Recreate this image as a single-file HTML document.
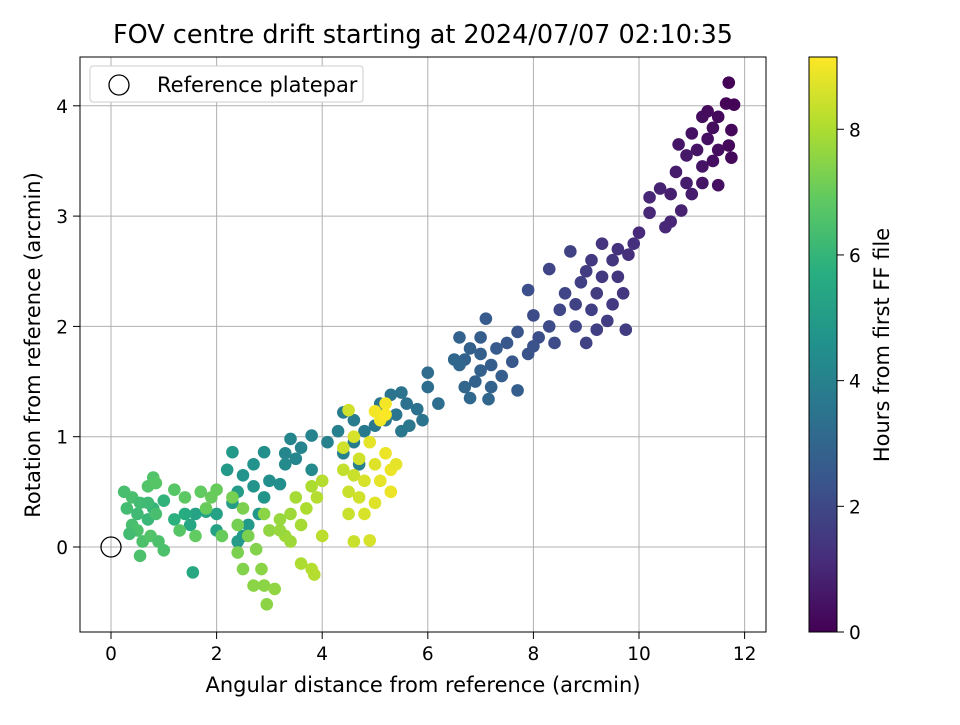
<!DOCTYPE html>
<html><head><meta charset="utf-8"><style>
body{margin:0;background:#fff;font-family:"Liberation Sans","DejaVu Sans",sans-serif}
svg text{font-family:"DejaVu Sans","Liberation Sans",sans-serif}
</style></head><body>
<svg id="chart" width="960" height="720" xmlns="http://www.w3.org/2000/svg">
<defs><linearGradient id="vir" x1="0" y1="1" x2="0" y2="0">
<stop offset="0" stop-color="#440154"/><stop offset="0.125" stop-color="#472d7b"/><stop offset="0.25" stop-color="#3b528b"/><stop offset="0.375" stop-color="#2c728e"/><stop offset="0.5" stop-color="#21918c"/><stop offset="0.625" stop-color="#28ae80"/><stop offset="0.75" stop-color="#5ec962"/><stop offset="0.875" stop-color="#addc30"/><stop offset="1" stop-color="#fde725"/></linearGradient>
<clipPath id="clip"><rect x="80" y="57" width="686" height="575"/></clipPath></defs>
<text x="423" y="43" font-size="25.5" text-anchor="middle">FOV centre drift starting at 2024/07/07 02:10:35</text>
<g id="grid"></g>
<g id="pts" clip-path="url(#clip)"></g>
<circle id="refm" r="10" fill="none" stroke="#000" stroke-width="1.3"/>
<rect x="80" y="57" width="686" height="575" fill="none" stroke="#000" stroke-width="1"/>
<g id="ticks"></g>
<text x="423" y="692" font-size="21" text-anchor="middle">Angular distance from reference (arcmin)</text>
<text transform="translate(40,345) rotate(-90)" font-size="21" text-anchor="middle">Rotation from reference (arcmin)</text>
<g>
<rect x="90" y="66" width="273" height="36" rx="3" fill="#fff" stroke="#ccc"/>
<circle cx="119" cy="85" r="10" fill="none" stroke="#000" stroke-width="1.3"/>
<text x="157" y="92" font-size="21">Reference platepar</text></g>
<rect x="809" y="57" width="28" height="575" fill="url(#vir)" stroke="#000" stroke-width="1"/>
<g id="cbt"></g>
<text transform="translate(889,345) rotate(-90)" font-size="21" text-anchor="middle">Hours from first FF file</text>
</svg>
<script>
const xTicks=[0,2,4,6,8,10,12];
const yTicks=[0,1,2,3,4];
const cbTicks=[0,2,4,6,8];
const hMax=9.15;
const xs=[11.7,11.65,11.8,11.5,11.2,11.4,11.75,11.7,11.75,11.3,11.1,11.0,10.9,11.4,11.5,11.2,10.7,10.9,10.6,11.0,10.4,10.8,10.2,10.6,10.5,11.2,11.5,11.3,10.75,10.2,
10.0,9.9,9.6,9.8,9.3,9.5,9.1,9.0,9.3,8.9,9.6,9.7,9.5,9.2,8.8,8.6,8.5,8.8,9.1,9.4,9.75,8.3,8.0,8.1,8.3,8.7,9.0,9.2,7.9,8.4,
7.7,7.5,7.3,7.0,7.1,6.8,6.6,6.7,7.2,7.4,7.6,7.0,6.9,7.2,7.15,6.7,6.8,6.6,7.0,8.0,7.9,7.7,6.5,
6.0,6.0,6.2,5.8,5.6,5.5,5.3,5.1,5.4,5.5,5.65,5.9,5.2,5.0,4.8,4.6,4.4,4.6,4.4,4.7,4.3,
4.1,3.8,3.6,3.4,3.3,3.5,3.8,3.3,3.0,2.9,2.7,2.5,2.7,2.9,3.2,2.3,2.2,2.4,2.3,2.0,1.8,1.6,1.5,1.55,2.4,2.6,2.5,2.8,2.0,
1.4,1.2,1.0,0.8,0.7,0.5,0.3,0.25,0.4,0.55,0.4,0.5,0.6,0.55,0.75,0.9,1.0,0.85,0.7,0.8,0.85,1.2,1.4,1.7,1.9,2.0,1.8,1.6,1.3,2.1,0.35,0.7,
2.3,2.5,2.4,2.5,2.4,2.7,2.85,2.95,2.9,3.1,2.75,2.9,3.0,3.2,3.3,3.4,3.5,3.6,3.7,3.8,3.9,3.8,3.85,3.6,4.0,4.0,3.2,3.4,2.6,
4.4,4.5,4.6,4.5,4.6,4.7,4.5,4.8,4.8,4.9,5.0,5.0,5.1,4.9,5.0,5.2,5.1,5.2,5.3,5.3,5.4,4.4,4.7,5.2,4.6];
const ys=[4.21,4.02,4.01,3.9,3.9,3.8,3.78,3.64,3.53,3.7,3.6,3.75,3.55,3.5,3.28,3.45,3.4,3.3,3.2,3.2,3.25,3.05,3.17,2.95,2.9,3.3,3.6,3.95,3.65,3.03,
2.85,2.75,2.7,2.65,2.75,2.6,2.6,2.5,2.45,2.4,2.45,2.3,2.2,2.3,2.2,2.3,2.15,2.0,2.15,2.05,1.97,2.52,2.1,1.9,2.0,2.68,1.85,1.97,2.33,1.85,
1.95,1.85,1.8,1.9,2.07,1.8,1.9,1.7,1.65,1.55,1.68,1.6,1.5,1.45,1.34,1.45,1.35,1.65,1.75,1.82,1.75,1.42,1.7,
1.58,1.45,1.3,1.25,1.3,1.4,1.38,1.3,1.2,1.05,1.1,1.15,1.15,1.1,1.05,1.15,1.22,0.95,0.85,0.75,1.05,
0.95,1.01,0.9,0.98,0.85,0.8,0.7,0.75,0.6,0.86,0.75,0.65,0.55,0.45,0.57,0.86,0.7,0.5,0.4,0.3,0.32,0.3,0.2,-0.23,0.05,0.2,0.1,0.3,0.15,
0.3,0.25,0.42,0.35,0.25,0.3,0.35,0.5,0.45,0.4,0.2,0.15,0.05,-0.08,0.1,0.05,-0.03,0.3,0.55,0.63,0.58,0.52,0.45,0.5,0.45,0.52,0.35,0.1,0.15,0.1,0.12,0.4,
0.45,0.35,-0.05,-0.2,0.2,-0.35,-0.2,-0.52,-0.35,-0.38,-0.02,0.3,0.15,0.25,0.1,0.3,0.45,0.2,0.35,0.55,0.45,-0.2,-0.25,-0.15,0.1,0.6,0.15,0.05,0.1,
0.7,0.5,0.65,0.3,0.05,0.8,1.24,0.6,0.3,0.06,0.4,0.75,0.6,0.95,1.23,1.3,1.15,0.85,0.7,0.5,0.75,0.9,0.45,1.2,1.0];
const hours=[0.05,0.1,0.1,0.2,0.3,0.3,0.15,0.2,0.2,0.4,0.5,0.45,0.6,0.35,0.4,0.5,0.7,0.7,0.8,0.7,0.9,0.85,1.0,1.0,1.05,0.5,0.3,0.25,0.55,1.0,
1.1,1.2,1.3,1.25,1.35,1.4,1.5,1.6,1.5,1.7,1.4,1.45,1.55,1.6,1.8,1.9,1.95,1.9,1.7,1.65,1.6,1.9,2.1,2.15,2.1,1.8,1.8,1.7,2.2,2.1,
2.4,2.5,2.6,2.7,2.6,2.8,2.9,2.9,2.7,2.7,2.5,2.8,2.9,2.9,3.0,3.0,3.1,3.0,2.8,2.3,2.35,2.7,3.05,
3.2,3.25,3.3,3.4,3.4,3.45,3.5,3.5,3.55,3.6,3.6,3.45,3.6,3.65,3.7,3.8,3.85,3.85,3.95,3.9,3.95,
4.0,4.05,4.1,4.15,4.2,4.2,4.3,4.3,4.5,4.5,4.6,4.7,4.7,4.75,4.5,4.9,4.9,5.0,5.0,5.2,5.3,5.3,5.4,5.5,5.0,4.9,4.9,4.8,5.2,
5.6,5.8,5.9,6.0,6.1,6.2,6.3,6.4,6.4,6.3,6.4,6.5,6.5,6.5,6.6,6.5,6.5,6.4,6.6,6.6,6.7,6.7,6.8,6.9,7.0,7.0,7.0,6.9,6.7,7.0,6.3,6.2,
7.2,7.3,7.3,7.4,7.2,7.5,7.5,7.5,7.5,7.6,7.4,7.5,7.6,7.7,7.8,7.8,7.9,7.9,8.0,8.0,8.1,8.1,8.1,8.0,8.2,8.1,7.7,7.8,7.3,
8.3,8.4,8.4,8.4,8.4,8.5,8.5,8.6,8.6,8.6,8.7,8.7,8.8,8.8,9.0,9.0,9.0,8.9,8.9,8.9,8.8,8.5,8.5,9.1,8.6];
const NS='http://www.w3.org/2000/svg';
const sx=v=>111+v*52.8, sy=v=>547-v*110.3, sc=v=>632-v*(575/hMax);
const vir=[[68,1,84],[71,45,123],[59,82,139],[44,114,142],[33,145,140],[40,174,128],[94,201,98],[173,220,48],[253,231,37]];
function col(h){let t=Math.max(0,Math.min(1,h/hMax))*8,i=Math.min(7,Math.floor(t)),f=t-i;
return 'rgb('+vir[i].map((c,k)=>Math.round(c+(vir[i+1][k]-c)*f)).join(',')+')';}
function mk(tag,a,p){const e=document.createElementNS(NS,tag);for(const k in a)e.setAttribute(k,a[k]);p.appendChild(e);return e;}
const g=document.getElementById('grid'),tk=document.getElementById('ticks'),pts=document.getElementById('pts'),cb=document.getElementById('cbt');
xTicks.forEach(v=>{const x=sx(v);
const l=mk('line',{x1:x,x2:x,y1:57,y2:632,stroke:'#b0b0b0','stroke-width':1},g);


mk('line',{x1:x,x2:x,y1:632,y2:639,stroke:'#000'},tk);
const t=mk('text',{x:x,y:660,'font-size':18.5,'text-anchor':'middle'},tk);t.textContent=v;

});
yTicks.forEach(v=>{const y=sy(v);
const l=mk('line',{x1:80,x2:766,y1:y,y2:y,stroke:'#b0b0b0','stroke-width':1},g);


mk('line',{x1:73,x2:80,y1:y,y2:y,stroke:'#000'},tk);
const t=mk('text',{x:68,y:y+7,'font-size':18.5,'text-anchor':'end'},tk);t.textContent=v;

});
cbTicks.forEach(v=>{const y=sc(v);
mk('line',{x1:837,x2:844,y1:y,y2:y,stroke:'#000'},cb);
const t=mk('text',{x:849,y:y+7,'font-size':18.5},cb);t.textContent=v;

});
xs.forEach((x,i)=>{const c=mk('circle',{cx:sx(x),cy:sy(ys[i]),r:6.3,fill:col(hours[i])},pts);

});
const r=document.getElementById('refm');r.setAttribute('cx',sx(0));r.setAttribute('cy',sy(0));
</script>
</body></html>
